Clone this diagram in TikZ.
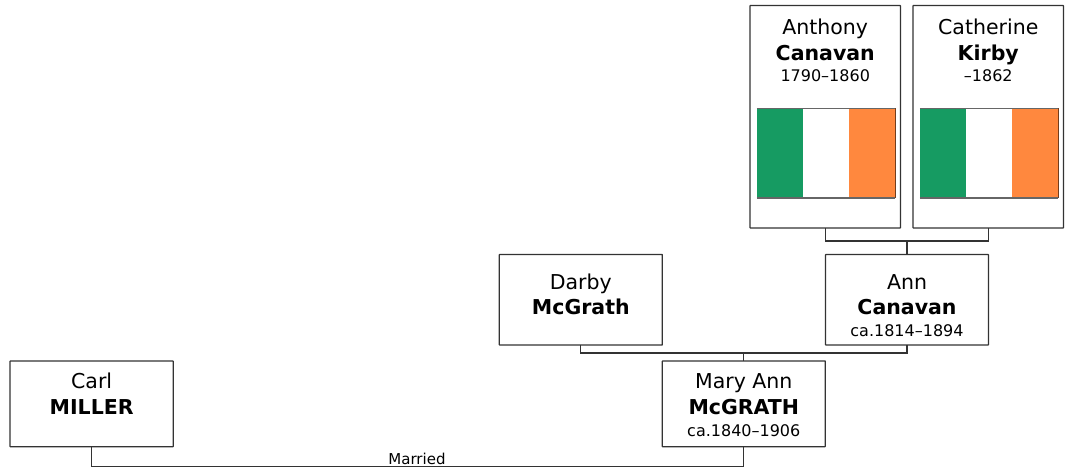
\documentclass[tikz,border=0pt]{standalone}
\usepackage{fontspec}
\setmainfont{DejaVu Sans}
\definecolor{linecol}{HTML}{333333}
\definecolor{flaggreen}{HTML}{169B62}
\definecolor{flagorange}{HTML}{FF883E}
\definecolor{flagedge}{HTML}{666666}
\newcommand{\ptline}[2]{\hbox to \hsize{\hss\rule{0pt}{#1pt}\smash{#2}\hss}}
\newcommand{\ptname}[2]{\ptline{#1}{\fontsize{20.5}{21}\selectfont #2}}
\newcommand{\ptsur}[2]{\ptline{#1}{\fontsize{20.5}{21}\selectfont\bfseries #2}}
\newcommand{\ptdate}[2]{\ptline{#1}{\fontsize{16}{16}\selectfont #2}}
\newcommand{\ptcontent}[3]{\vbox to #2pt{\hsize=#1pt\offinterlineskip #3\vss}}
\newcommand{\irishflag}[2]{%
  \fill[flaggreen] (#1,#2) rectangle ++(46,89.5);
  \fill[white] (#1+46,#2) rectangle ++(46.5,89.5);
  \fill[flagorange] (#1+92.5,#2) rectangle ++(45.8,89.5);
  \draw[flagedge,line width=1.2pt] (#1,#2) -- ++(138.3,0) (#1,#2+89.5) -- ++(138.3,0);
  \draw[flagorange!45!black,line width=0.7pt] (#1+138.3,#2) -- ++(0,89.5);
}
\tikzset{
  person/.style={draw=linecol,line width=1.2pt,fill=white,inner sep=0pt,outer sep=0pt,anchor=north west,rectangle,rounded corners=0.4pt},
  link/.style={draw=linecol,line width=1.2pt},
  tag/.style={font=\fontsize{15}{15}\selectfont,inner sep=0pt,anchor=base,text=black}
}
\begin{document}
\begin{tikzpicture}[x=1pt,y=-1pt]
\useasboundingbox (0,0) rectangle (1066,468);
\node[person] (anthony) at (750,5.5) {\ptcontent{150.5}{222.5}{\ptname{28.5}{Anthony}\ptsur{26}{Canavan}\ptdate{21.7}{1790–1860}}};
\node[person] (catherine) at (913,5.5) {\ptcontent{150.5}{222.5}{\ptname{28.5}{Catherine}\ptsur{26}{Kirby}\ptdate{21.7}{–1862}}};
\node[person] (ann) at (825.5,254.5) {\ptcontent{163}{90.5}{\ptname{34.5}{Ann}\ptsur{25.5}{Canavan}\ptdate{21.5}{ca.1814–1894}}};
\node[person] (darby) at (499.3,254.5) {\ptcontent{163}{90.5}{\ptname{34.5}{Darby}\ptsur{25.5}{McGrath}}};
\node[person] (mary) at (662.3,361) {\ptcontent{163}{85.7}{\ptname{27.5}{Mary Ann}\ptsur{26}{McGRATH}\ptdate{21.5}{ca.1840–1906}}};
\node[person] (carl) at (10,361) {\ptcontent{163.3}{85.7}{\ptname{27.5}{Carl}\ptsur{26}{MILLER}}};
\irishflag{756.8}{108.5}
\irishflag{919.8}{108.5}
\coordinate (upper) at (907,241);
\coordinate (middle) at (743.8,353);
\coordinate (bottom) at (417,466.5);
\draw[link] (anthony.south) |- (upper) -| (catherine.south);
\draw[link] (upper) -- (ann.north);
\draw[link] (darby.south) |- (middle) -| (ann.south);
\draw[link] (middle) -- (mary.north);
\draw[link] (carl.south) |- (bottom) -| (mary.south);
\node[tag] (married) at (417,464) {Married};
\end{tikzpicture}
\end{document}
